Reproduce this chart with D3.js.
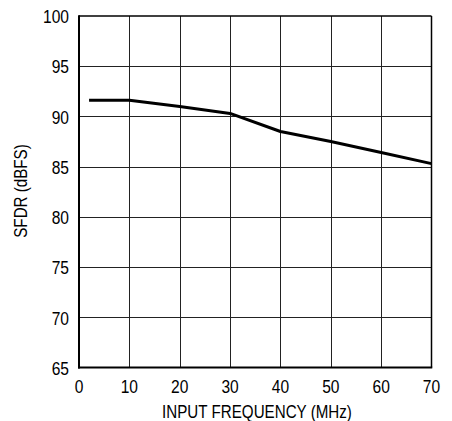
<!DOCTYPE html>
<html>
<head>
<meta charset="utf-8">
<script src="https://cdn.jsdelivr.net/npm/d3@7"></script>
<style>
  html, body { margin: 0; padding: 0; background: #fff; }
  svg { display: block; }
  text { font-family: "Liberation Sans", Arial, sans-serif; fill: #000; }
</style>
</head>
<body>
<script>
// Data
const freqMHz = [2, 10, 20, 30, 40, 50, 60, 70];
const sfdrDBFS = [91.6, 91.6, 91.0, 90.3, 88.5, 87.5, 86.4, 85.3];
const xTicks = [0, 10, 20, 30, 40, 50, 60, 70];
const yTicks = [65, 70, 75, 80, 85, 90, 95, 100];
const xTitle = "INPUT FREQUENCY (MHz)";
const yTitle = "SFDR (dBFS)";

const W = 452, H = 421;
const L = 79, R = 431.5, T = 16, B = 367.5;
const NARROW = 0.82;

const svg = d3.select("body").append("svg").attr("width", W).attr("height", H);

const x = d3.scaleLinear().domain([0, 70]).range([L, R]);
const y = d3.scaleLinear().domain([65, 100]).range([B, T]);

// Grid
const grid = svg.append("g");
grid.selectAll("line.v").data(xTicks.slice(1, -1)).enter().append("line")
  .attr("x1", d => Math.round(x(d)) + 0.5).attr("x2", d => Math.round(x(d)) + 0.5)
  .attr("y1", T).attr("y2", B)
  .attr("stroke", "#222").attr("stroke-width", 1);
grid.selectAll("line.h").data(yTicks.slice(1, -1)).enter().append("line")
  .attr("y1", d => Math.round(y(d)) + 0.5).attr("y2", d => Math.round(y(d)) + 0.5)
  .attr("x1", L).attr("x2", R)
  .attr("stroke", "#222").attr("stroke-width", 1);

// Frame
svg.append("line").attr("x1", L).attr("x2", R).attr("y1", T).attr("y2", T).attr("stroke", "#000").attr("stroke-width", 1.5);
svg.append("line").attr("x1", R).attr("x2", R).attr("y1", T).attr("y2", B).attr("stroke", "#000").attr("stroke-width", 1.5);
svg.append("line").attr("x1", L).attr("x2", L).attr("y1", T - 0.75).attr("y2", B + 1).attr("stroke", "#000").attr("stroke-width", 2);
svg.append("line").attr("x1", L - 1).attr("x2", R + 0.75).attr("y1", B).attr("y2", B).attr("stroke", "#000").attr("stroke-width", 2);

// Data line
const line = d3.line().x((d, i) => x(freqMHz[i])).y(d => y(d));
svg.append("path").datum(sfdrDBFS)
  .attr("d", line).attr("fill", "none")
  .attr("stroke", "#000").attr("stroke-width", 3).attr("stroke-linejoin", "round");

// Tick labels (condensed)
svg.append("g").selectAll("text").data(yTicks).enter().append("text")
  .attr("transform", d => `translate(69,${y(d)}) scale(${NARROW},1)`)
  .attr("dy", "0.38em")
  .attr("text-anchor", "end").attr("font-size", 19)
  .text(d => d);
svg.append("g").selectAll("text").data(xTicks).enter().append("text")
  .attr("transform", d => `translate(${x(d)},393) scale(${NARROW},1)`)
  .attr("text-anchor", "middle").attr("font-size", 19)
  .text(d => d);

// Axis titles
svg.append("text").attr("transform", `translate(${(161.7 + 352.3) / 2},417.5) scale(${NARROW},1)`)
  .attr("text-anchor", "middle").attr("font-size", 18.5).text(xTitle);
svg.append("text").attr("transform", `translate(27,191) rotate(-90) scale(${NARROW},1)`)
  .attr("text-anchor", "middle").attr("font-size", 18.5).text(yTitle);
</script>
</body>
</html>
